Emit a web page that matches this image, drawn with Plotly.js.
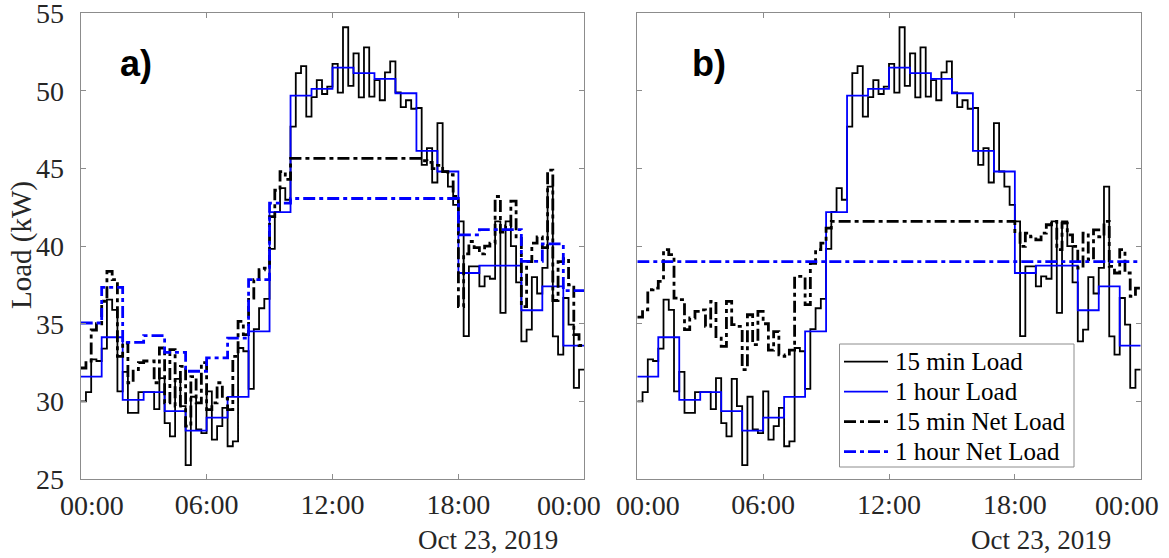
<!DOCTYPE html>
<html>
<head>
<meta charset="utf-8">
<script src="https://cdn.plot.ly/plotly-3.0.1.min.js"></script>
<style>html,body{margin:0;padding:0;background:#fff;}#chart{width:1169px;height:558px;}</style>
</head>
<body>
<div id="chart"></div>
<script>
// ---- data (kW) ----
const load15 = [
 30.0, 30.6, 32.7, 32.6, 33.4, 36.55, 35.9, 30.65,
 31.9, 29.26, 29.26, 30.6, 30.6, 30.6, 29.5, 31.5,
 28.6, 27.75, 31.45, 29.7, 25.9, 30.3, 28.2, 27.95,
 30.65, 27.54, 28.4, 29.58, 27.11, 27.43, 33.44, 33.23,
 30.8, 34.66, 36.0, 36.6, 39.83, 42.2, 43.74, 42.99,
 47.7, 51.14, 51.6, 48.35, 49.6, 50.7, 49.8, 50.28,
 51.74, 49.89, 54.1, 50.32, 52.42, 49.59, 52.81, 49.63,
 50.7, 49.4, 51.2, 51.9, 49.9, 48.95, 49.4, 48.85,
 48.9, 45.24, 46.31, 44.1, 47.92, 44.81, 43.84, 42.66,
 41.6, 34.2, 38.7, 38.7, 37.41, 38.05, 37.9, 41.6,
 35.7, 41.6, 40.0, 37.66, 33.87, 34.62, 38.0, 36.95,
 38.6, 43.84, 34.19, 33.01, 36.66, 34.94, 30.87, 32.05
];
const load60 = [
 31.6, 34.13, 30.1, 30.6, 29.37, 28.12, 28.96, 30.29,
 34.51, 42.19, 49.70, 50.13, 51.5, 51.14, 50.77, 49.85,
 46.14, 44.81, 38.27, 38.74, 38.74, 35.87, 37.41, 33.59
];
const netA15 = [
 32.15, 32.6, 34.6, 35.0, 36.45, 38.37, 37.84, 32.9,
 33.76, 31.2, 32.05, 32.5, 32.6, 32.6, 31.2, 33.44,
 29.9, 33.33, 29.7, 32.26, 28.4, 31.6, 29.9, 32.5,
 29.47, 29.9, 31.2, 30.2, 29.47, 32.9, 35.15, 34.3,
 36.66, 37.84, 38.48, 38.59, 41.9, 43.6, 44.8, 44.3,
 45.65, 45.65, 45.65, 45.65, 45.65, 45.65, 45.65, 45.65,
 45.65, 45.65, 45.65, 45.65, 45.65, 45.65, 45.65, 45.65,
 45.65, 45.65, 45.65, 45.65, 45.65, 45.65, 45.65, 45.65,
 45.65, 45.5, 45.4, 45.0, 45.2, 44.8, 44.6, 43.2,
 36.1, 39.5, 40.3, 39.9, 39.5, 40.0, 40.2, 43.2,
 40.9, 41.3, 42.9, 40.5, 36.1, 39.0, 40.2, 40.6,
 39.9, 44.9, 36.5, 39.0, 39.2, 37.5, 34.3, 33.6
];
const netA60 = [
 35.05, 37.34, 33.8, 34.23, 33.16, 31.94, 32.8, 34.08,
 37.84, 42.77, 43.07, 43.07, 43.07, 43.07, 43.07, 43.07,
 43.07, 43.07, 40.73, 41.06, 41.06, 39.02, 40.15, 37.13
];
const netB15 = [
 35.43, 35.9, 37.19, 37.3, 37.73, 39.77, 39.45, 36.65,
 36.55, 34.62, 35.37, 35.8, 35.9, 34.83, 36.44, 34.08,
 33.55, 36.44, 34.94, 34.83, 32.05, 35.58, 33.65, 35.8,
 35.0, 33.3, 34.5, 33.0, 32.9, 33.3, 38.05, 38.05,
 36.23, 38.9, 39.77, 40.2, 41.16, 41.6, 41.6, 41.6,
 41.6, 41.6, 41.6, 41.6, 41.6, 41.6, 41.6, 41.6,
 41.6, 41.6, 41.6, 41.6, 41.6, 41.6, 41.6, 41.6,
 41.6, 41.6, 41.6, 41.6, 41.6, 41.6, 41.6, 41.6,
 41.6, 41.6, 41.6, 41.6, 41.6, 41.6, 41.6, 41.6,
 40.84, 39.98, 40.84, 40.6, 40.41, 40.84, 41.38, 41.59,
 39.77, 41.48, 40.73, 39.98, 38.59, 40.84, 39.13, 41.05,
 40.6, 41.59, 38.7, 38.27, 39.77, 38.27, 36.76, 37.3
];
const netB60 = [
 39.0, 39.0, 39.0, 39.0, 39.0, 39.0, 39.0, 39.0,
 39.0, 39.0, 39.0, 39.0, 39.0, 39.0, 39.0, 39.0,
 39.0, 39.0, 39.0, 39.0, 39.0, 39.0, 39.0, 39.0
];
const tickVals = [0, 6, 12, 18, 24];
const tickText = ['00:00', '06:00', '12:00', '18:00', '00:00'];
const yTickVals = [25, 30, 35, 40, 45, 50, 55];
const seriesNames = ['15 min Load', '1 hour Load', '15 min Net Load', '1 hour Net Load'];
const dateLabel = 'Oct 23, 2019';

// ---- helpers: stairs (value holds over its interval) ----
function stairs(vals, stepHours) {
  const x = [], y = [];
  vals.forEach((v, i) => { x.push(i * stepHours); y.push(v); });
  x.push(vals.length * stepHours); y.push(vals[vals.length - 1]);
  return {x, y};
}

const FONT = 'Liberation Serif, Times New Roman, serif';
const DASHDOT = '12px,4px,4px,4px';
const styles = [
  {color: '#000000', width: 1.8, dash: 'solid'},
  {color: '#0000ff', width: 1.8, dash: 'solid'},
  {color: '#000000', width: 2.8, dash: DASHDOT},
  {color: '#0000ff', width: 2.8, dash: DASHDOT}
];

function makeTraces(sets, xa, ya) {
  return sets.map((s, i) => {
    const d = stairs(s.vals, s.step);
    return {
      type: 'scatter', mode: 'lines', x: d.x, y: d.y,
      xaxis: xa, yaxis: ya, name: seriesNames[i], showlegend: false,
      line: {color: styles[i].color, width: styles[i].width, dash: styles[i].dash, shape: 'hv'},
      hoverinfo: 'skip'
    };
  });
}

const traces = [].concat(
  makeTraces([
    {vals: load15, step: 0.25}, {vals: load60, step: 1},
    {vals: netA15, step: 0.25}, {vals: netA60, step: 1}
  ], 'x', 'y'),
  makeTraces([
    {vals: load15, step: 0.25}, {vals: load60, step: 1},
    {vals: netB15, step: 0.25}, {vals: netB60, step: 1}
  ], 'x2', 'y2')
);

const W = 1169, H = 558;
const plotTop = 13.3, plotBottom = 479;
const yDom = [(H - plotBottom) / H, (H - plotTop) / H];
const AXC = '#8c8c8c';
const TXT = '#262626';
const TICKSIZE = 28;

// middle tick labels drawn by the axis; the edge labels are nudged inward like the original
const midText = tickText.map((t, i) => (i === 0 || i === tickText.length - 1) ? '' : t);

function xAxis(dom, anchor) {
  return {
    domain: dom, anchor: anchor, range: [0, 24],
    tickmode: 'array', tickvals: tickVals, ticktext: midText,
    ticks: 'inside', ticklen: 5, tickcolor: AXC, tickwidth: 1,
    showline: true, linecolor: AXC, linewidth: 1, mirror: 'ticks',
    showgrid: false, zeroline: false,
    tickfont: {family: FONT, size: TICKSIZE, color: TXT},
    ticklabelstandoff: 0, ticklabeloverflow: 'allow', fixedrange: true
  };
}
function yAxis(anchor, showLabels) {
  return {
    domain: yDom, anchor: anchor, range: [25, 55],
    tickmode: 'array', tickvals: yTickVals, ticktext: yTickVals.map(String),
    ticks: 'inside', ticklen: 5, tickcolor: AXC, tickwidth: 1,
    showline: true, linecolor: AXC, linewidth: 1, mirror: 'ticks',
    showgrid: false, zeroline: false, showticklabels: showLabels,
    tickfont: {family: FONT, size: TICKSIZE, color: TXT},
    ticklabelstandoff: 10, ticklabeloverflow: 'allow', fixedrange: true
  };
}

const annotations = [
  {text: 'Load (kW)', xref: 'paper', yref: 'paper', x: 21 / W, y: (H - 245) / H,
   textangle: -90, showarrow: false, xanchor: 'center', yanchor: 'middle',
   font: {family: FONT, size: 29, color: TXT}},
  {text: '<b>a)</b>', xref: 'paper', yref: 'paper', x: 136 / W, y: (H - 63) / H,
   showarrow: false, xanchor: 'center', yanchor: 'middle',
   font: {family: 'Liberation Sans, Arial, sans-serif', size: 36, color: '#000000'}},
  {text: '<b>b)</b>', xref: 'paper', yref: 'paper', x: 709 / W, y: (H - 63) / H,
   showarrow: false, xanchor: 'center', yanchor: 'middle',
   font: {family: 'Liberation Sans, Arial, sans-serif', size: 36, color: '#000000'}}
];
// date labels
[488, 1041].forEach(cx => annotations.push({
  text: dateLabel, xref: 'paper', yref: 'paper', x: cx / W, y: (H - 540) / H,
  showarrow: false, xanchor: 'center', yanchor: 'middle',
  font: {family: FONT, size: 27, color: TXT}}));
// edge tick labels (first and last) of both panels
[[92, tickText[0]], [569, tickText[4]], [648, tickText[0]], [1127, tickText[4]]].forEach(p => annotations.push({
  text: p[1], xref: 'paper', yref: 'paper', x: p[0] / W, y: (H - 505) / H,
  showarrow: false, xanchor: 'center', yanchor: 'middle',
  font: {family: FONT, size: TICKSIZE, color: TXT}}));

// custom legend for panel b
const legL = 839.5, legR = 1074, legT = 344, legB = 467;
const shapes = [
  {type: 'rect', xref: 'paper', yref: 'paper', x0: legL / W, x1: legR / W, y0: (H - legB) / H, y1: (H - legT) / H,
   fillcolor: '#ffffff', line: {color: AXC, width: 1}, layer: 'above'}
];
seriesNames.forEach((nm, i) => {
  const cy = 361.7 + 30 * i;
  shapes.push({type: 'line', xref: 'paper', yref: 'paper', x0: 844 / W, x1: 888 / W,
    y0: (H - cy) / H, y1: (H - cy) / H, layer: 'above',
    line: {color: styles[i].color, width: styles[i].width, dash: styles[i].dash}});
  annotations.push({text: nm, xref: 'paper', yref: 'paper', x: 893 / W, y: (H - cy) / H,
    showarrow: false, xanchor: 'left', yanchor: 'middle',
    font: {family: FONT, size: 25, color: '#000000'}});
});

const layout = {
  width: W, height: H,
  margin: {l: 0, r: 0, t: 0, b: 0, pad: 0},
  paper_bgcolor: '#ffffff', plot_bgcolor: '#ffffff',
  showlegend: false,
  xaxis: xAxis([80.7 / W, 584.3 / W], 'y'),
  yaxis: yAxis('x', true),
  xaxis2: xAxis([637.3 / W, 1140.7 / W], 'y2'),
  yaxis2: yAxis('x2', false),
  shapes: shapes,
  annotations: annotations
};

Plotly.newPlot('chart', traces, layout, {staticPlot: true, displayModeBar: false});
</script>
</body>
</html>
